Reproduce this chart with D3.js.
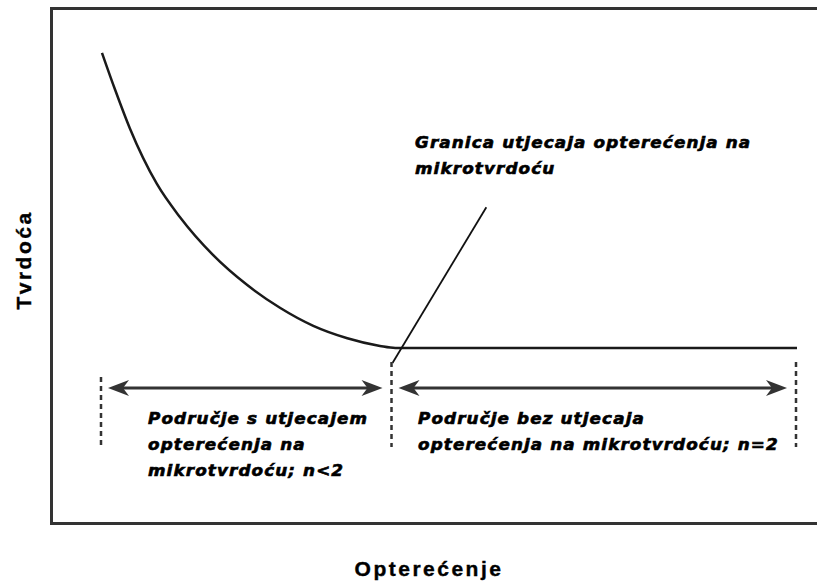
<!DOCTYPE html>
<html>
<head>
<meta charset="utf-8">
<script src="https://cdn.jsdelivr.net/npm/d3@7"></script>
<style>
  body { margin: 0; background: #fff; }
  svg { display: block; }
</style>
</head>
<body>
<div id="chart"></div>
<script>
const width = 817;
const height = 583;

// Curve: load vs hardness (relative units)
const loadPts = [0, 1.9, 4.0, 7.9, 11.2, 16.0, 20.9, 25.6, 30.4, 35.3, 40.0, 42.2, 100];
const hardPts = [91.3, 84.1, 76.7, 65.9, 59.5, 52.1, 46.3, 41.9, 38.4, 36.0, 34.5, 34.1, 34.1];

// Region borders along the load axis
const borders = [0, 41.8, 100];
const regionLabels = [
  ['Područje s utjecajem', 'opterećenja na', 'mikrotvrdoću; n<2'],
  ['Područje bez utjecaja', 'opterećenja na mikrotvrdoću; n=2']
];
const boundaryLabel = ['Granica utjecaja opterećenja na', 'mikrotvrdoću'];
// leader line end points [load, hardness]
const leader = [[55.3, 61.4], [41.8, 31.2]];

const xLabel = 'Opterećenje';
const yLabel = 'Tvrdoća';

const x = d3.scaleLinear().domain([0, 100]).range([102, 797]);
const y = d3.scaleLinear().domain([0, 100]).range([524, 8]);

const svg = d3.select('#chart')
    .append('svg')
    .attr('width', width)
    .attr('height', height);

// Frame (right edge runs off the picture)
svg.append('rect')
    .attr('x', 51.5)
    .attr('y', 8.5)
    .attr('width', 800)
    .attr('height', 515)
    .attr('fill', 'none')
    .attr('stroke', '#333')
    .attr('stroke-width', 3);

// Curve
const line = d3.line()
    .x(d => x(d[0]))
    .y(d => y(d[1]))
    .curve(d3.curveMonotoneX);

svg.append('path')
    .datum(loadPts.map((l, i) => [l, hardPts[i]]))
    .attr('d', line)
    .attr('fill', 'none')
    .attr('stroke', '#1a1a1a')
    .attr('stroke-width', 2.5);

// Leader line
svg.append('line')
    .attr('x1', x(leader[0][0]))
    .attr('y1', y(leader[0][1]))
    .attr('x2', x(leader[1][0]))
    .attr('y2', y(leader[1][1]))
    .attr('stroke', '#111')
    .attr('stroke-width', 1.8);

// Dashed borders
svg.selectAll('.border')
    .data(borders)
    .enter().append('line')
    .attr('class', 'border')
    .attr('x1', d => x(d) - 1)
    .attr('x2', d => x(d) - 1)
    .attr('y1', (d, i) => i === 0 ? 377 : 362)
    .attr('y2', 447)
    .attr('stroke', '#333')
    .attr('stroke-width', 2.5)
    .attr('stroke-dasharray', '5,4');

// Double arrows
const arrowY = 388;
const head = 'M0,0L-21,-8L-15,0L-21,8Z';
const spans = d3.pairs(borders);

spans.forEach(([a, b]) => {
  const x0 = x(a) + 6;
  const x1 = x(b) - 10;
  svg.append('line')
      .attr('x1', x0 + 12).attr('x2', x1 - 12)
      .attr('y1', arrowY).attr('y2', arrowY)
      .attr('stroke', '#333')
      .attr('stroke-width', 2.8);
  svg.append('path')
      .attr('d', head)
      .attr('transform', `translate(${x1},${arrowY})`)
      .attr('fill', '#333');
  svg.append('path')
      .attr('d', head)
      .attr('transform', `translate(${x0},${arrowY}) rotate(180)`)
      .attr('fill', '#333');
});

// Italic annotations (heavy, extended look)
const noteStyle = sel => sel
    .attr('font-family', 'DejaVu Sans')
    .attr('font-weight', 'bold')
    .attr('font-style', 'italic')
    .attr('font-size', 15)
    .attr('letter-spacing', 1)
    .attr('fill', '#000')
    .attr('stroke', '#000')
    .attr('stroke-width', 0.6);

function noteBlock(lines, x0, y0) {
  svg.append('g')
      .attr('transform', `translate(${x0},${y0}) scale(1.12,1)`)
      .call(noteStyle)
      .selectAll('text')
      .data(lines)
      .enter().append('text')
      .attr('x', 0)
      .attr('y', (d, j) => j * 26)
      .text(d => d);
}

noteBlock(regionLabels[0], 148, 424);
noteBlock(regionLabels[1], 418, 424);
noteBlock(boundaryLabel, 415, 148);

// Axis titles
const titleStyle = sel => sel
    .attr('text-anchor', 'middle')
    .attr('font-family', 'Liberation Sans')
    .attr('font-weight', 'bold')
    .attr('font-size', 21)
    .attr('letter-spacing', 2.5)
    .attr('stroke', '#000')
    .attr('stroke-width', 0.4);

svg.append('text')
    .attr('x', 429)
    .attr('y', 576)
    .call(titleStyle)
    .text(xLabel);

svg.append('text')
    .attr('transform', 'translate(31,260) rotate(-90)')
    .call(titleStyle)
    .text(yLabel);
</script>
</body>
</html>
